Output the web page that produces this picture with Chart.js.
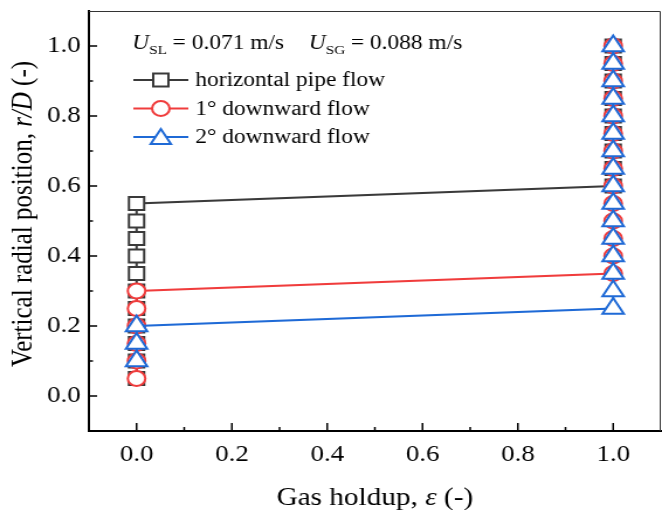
<!DOCTYPE html>
<html>
<head>
<meta charset="utf-8">
<script src="https://cdn.jsdelivr.net/npm/chart.js@4.4.1/dist/chart.umd.min.js"></script>
<style>
  html, body { margin: 0; padding: 0; background: #fff; }
</style>
</head>
<body>
<!-- the figure is drawn narrow and shown stretched, like the source image -->
<canvas id="chart" width="566" height="510" style="display:block;width:662px;height:510px"></canvas>
<script>
// radial positions r/D and gas holdup for each case
const HORIZONTAL_Y = [0.05, 0.10, 0.15, 0.20, 0.25, 0.30, 0.35, 0.40, 0.45, 0.50, 0.55,
  0.60, 0.65, 0.70, 0.75, 0.80, 0.85, 0.90, 0.95, 1.00];
const HORIZONTAL_X = [0, 0, 0, 0, 0, 0, 0, 0, 0, 0, 0,
  1, 1, 1, 1, 1, 1, 1, 1, 1];

const DOWN1_Y = [0.05, 0.10, 0.15, 0.20, 0.25, 0.30,
  0.35, 0.40, 0.45, 0.50, 0.55, 0.60, 0.65, 0.70, 0.75, 0.80, 0.85, 0.90, 0.95, 1.00];
const DOWN1_X = [0, 0, 0, 0, 0, 0,
  1, 1, 1, 1, 1, 1, 1, 1, 1, 1, 1, 1, 1, 1];

const DOWN2_Y = [0.10, 0.15, 0.20,
  0.25, 0.30, 0.35, 0.40, 0.45, 0.50, 0.55, 0.60, 0.65, 0.70, 0.75, 0.80, 0.85, 0.90, 0.95, 1.00];
const DOWN2_X = [0, 0, 0,
  1, 1, 1, 1, 1, 1, 1, 1, 1, 1, 1, 1, 1, 1, 1, 1];

const SERIES_NAMES = ['horizontal pipe flow', '1\u00B0 downward flow', '2\u00B0 downward flow'];

const X_TICKS = [0.0, 0.2, 0.4, 0.6, 0.8, 1.0];
const X_MINOR = [0.1, 0.3, 0.5, 0.7, 0.9];
const Y_TICKS = [0.0, 0.2, 0.4, 0.6, 0.8, 1.0];
const Y_MINOR = [0.1, 0.3, 0.5, 0.7, 0.9];

const FONT = "'Liberation Serif', 'Times New Roman', serif";
const COLORS = { black: '#3a3a3a', red: '#f03c3c', blue: '#1f6ad6' };

function toPoints(xs, ys) {
  return xs.map((x, i) => ({ x: x, y: ys[i] }));
}

// draws a run of text pieces with their own fonts, left to right
function drawRuns(ctx, runs, x, y) {
  runs.forEach(r => {
    ctx.font = r.font;
    ctx.fillText(r.text, x, y + (r.dy || 0));
    x += ctx.measureText(r.text).width;
  });
  return x;
}

function runsWidth(ctx, runs) {
  let w = 0;
  runs.forEach(r => { ctx.font = r.font; w += ctx.measureText(r.text).width; });
  return w;
}

function drawMarker(ctx, style, x, y, r, color) {
  ctx.save();
  ctx.strokeStyle = color;
  ctx.fillStyle = '#fff';
  ctx.lineWidth = 2;
  ctx.beginPath();
  if (style === 'rect') {
    const s = r * Math.SQRT1_2;
    ctx.rect(x - s, y - s, 2 * s, 2 * s);
  } else if (style === 'circle') {
    ctx.arc(x, y, r, 0, Math.PI * 2);
  } else {
    ctx.moveTo(x, y - r);
    ctx.lineTo(x + r * Math.sin(Math.PI * 2 / 3), y - r * Math.cos(Math.PI * 2 / 3));
    ctx.lineTo(x + r * Math.sin(Math.PI * 4 / 3), y - r * Math.cos(Math.PI * 4 / 3));
    ctx.closePath();
  }
  ctx.fill();
  ctx.stroke();
  ctx.restore();
}

const decorPlugin = {
  id: 'decor',
  afterDraw(chart) {
    const ctx = chart.ctx;
    const area = chart.chartArea;
    const xs = chart.scales.x;
    const ys = chart.scales.y;

    ctx.save();
    // top and right frame
    ctx.strokeStyle = '#333';
    ctx.lineWidth = 1;
    ctx.beginPath();
    ctx.moveTo(area.left, area.top + 0.5);
    ctx.lineTo(area.right - 0.5, area.top + 0.5);
    ctx.lineTo(area.right - 0.5, area.bottom);
    ctx.stroke();

    // inward ticks
    ctx.strokeStyle = '#000';
    ctx.lineWidth = 1.5;
    ctx.beginPath();
    X_TICKS.forEach(v => {
      const px = xs.getPixelForValue(v);
      ctx.moveTo(px, area.bottom); ctx.lineTo(px, area.bottom - 8);
    });
    X_MINOR.forEach(v => {
      const px = xs.getPixelForValue(v);
      ctx.moveTo(px, area.bottom); ctx.lineTo(px, area.bottom - 4);
    });
    Y_TICKS.forEach(v => {
      const py = ys.getPixelForValue(v);
      ctx.moveTo(area.left, py); ctx.lineTo(area.left + 7, py);
    });
    Y_MINOR.forEach(v => {
      const py = ys.getPixelForValue(v);
      ctx.moveTo(area.left, py); ctx.lineTo(area.left + 3.5, py);
    });
    ctx.stroke();

    ctx.fillStyle = '#000';
    ctx.textBaseline = 'alphabetic';
    ctx.textAlign = 'left';

    // axis titles
    const xTitle = [
      { text: 'Gas holdup, ', font: `25px ${FONT}` },
      { text: '\u03B5', font: `italic 25px ${FONT}` },
      { text: ' (-)', font: `25px ${FONT}` }
    ];
    const cx = (area.left + area.right) / 2;
    drawRuns(ctx, xTitle, cx - runsWidth(ctx, xTitle) / 2, 505);

    const yTitle = [
      { text: 'Vertical radial position, ', font: `25px ${FONT}` },
      { text: 'r/D', font: `italic 25px ${FONT}` },
      { text: ' (-)', font: `25px ${FONT}` }
    ];
    ctx.save();
    ctx.translate(27, 214);
    ctx.rotate(-Math.PI / 2);
    drawRuns(ctx, yTitle, -runsWidth(ctx, yTitle) / 2, 0);
    ctx.restore();

    // velocity note
    drawRuns(ctx, [
      { text: 'U', font: `italic 20px ${FONT}` },
      { text: 'SL', font: `13px ${FONT}`, dy: 5 },
      { text: ' = 0.071 m/s', font: `20px ${FONT}` }
    ], 113, 49);
    drawRuns(ctx, [
      { text: 'U', font: `italic 20px ${FONT}` },
      { text: 'SG', font: `13px ${FONT}`, dy: 5 },
      { text: ' = 0.088 m/s', font: `20px ${FONT}` }
    ], 264, 49);

    // legend
    const legend = [
      { color: COLORS.black, style: 'rect', r: 9.2 },
      { color: COLORS.red, style: 'circle', r: 7.5 },
      { color: COLORS.blue, style: 'triangle', r: 10 }
    ];
    legend.forEach((item, i) => {
      const y = 80 + i * 28.5;
      ctx.strokeStyle = item.color;
      ctx.lineWidth = 2;
      ctx.beginPath();
      ctx.moveTo(114, y); ctx.lineTo(161, y);
      ctx.stroke();
      drawMarker(ctx, item.style, 137.5, item.style === 'triangle' ? y + 2 : y, item.r, item.color);
      ctx.fillStyle = '#000';
      ctx.font = `20px ${FONT}`;
      ctx.textBaseline = 'middle';
      ctx.fillText(SERIES_NAMES[i], 167, y + 1);
    });
    ctx.restore();
  }
};

const baseSet = {
  showLine: true,
  borderWidth: 2,
  pointBorderWidth: 2,
  pointBackgroundColor: '#fff',
  tension: 0
};

function noEdgePadding(s) {
  s.paddingLeft = 0;
  s.paddingRight = 0;
  s.paddingTop = 0;
  s.paddingBottom = 0;
}

new Chart(document.getElementById('chart').getContext('2d'), {
  type: 'scatter',
  data: {
    datasets: [
      Object.assign({}, baseSet, {
        label: SERIES_NAMES[0],
        data: toPoints(HORIZONTAL_X, HORIZONTAL_Y),
        borderColor: COLORS.black,
        pointBorderColor: COLORS.black,
        pointStyle: 'rect',
        pointRadius: 9.2,
        order: 3
      }),
      Object.assign({}, baseSet, {
        label: SERIES_NAMES[1],
        data: toPoints(DOWN1_X, DOWN1_Y),
        borderColor: COLORS.red,
        pointBorderColor: COLORS.red,
        pointStyle: 'circle',
        pointRadius: 7.5,
        order: 2
      }),
      Object.assign({}, baseSet, {
        label: SERIES_NAMES[2],
        data: toPoints(DOWN2_X, DOWN2_Y),
        borderColor: COLORS.blue,
        pointBorderColor: COLORS.blue,
        pointStyle: 'triangle',
        pointRadius: 10.5,
        order: 1
      })
    ]
  },
  options: {
    responsive: false,
    animation: false,
    devicePixelRatio: 1,
    layout: { autoPadding: false, padding: { top: 11, right: 1, left: 0, bottom: 0 } },
    plugins: {
      legend: { display: false },
      tooltip: { enabled: false }
    },
    scales: {
      x: {
        type: 'linear',
        min: -0.1,
        max: 1.1,
        afterFit: s => { s.height = 79; noEdgePadding(s); },
        afterBuildTicks: s => { s.ticks = X_TICKS.map(v => ({ value: v })); },
        grid: { display: false, drawTicks: false },
        border: { display: true, color: '#000', width: 2 },
        ticks: {
          padding: 10,
          color: '#000',
          font: { family: FONT, size: 23 },
          maxRotation: 0,
          callback: v => v.toFixed(1)
        }
      },
      y: {
        type: 'linear',
        min: -0.1,
        max: 1.1,
        afterFit: s => { s.width = 76; noEdgePadding(s); },
        afterBuildTicks: s => { s.ticks = Y_TICKS.map(v => ({ value: v })); },
        grid: { display: false, drawTicks: false },
        border: { display: true, color: '#000', width: 2 },
        ticks: {
          padding: 7,
          color: '#000',
          font: { family: FONT, size: 23 },
          callback: v => v.toFixed(1)
        }
      }
    }
  },
  plugins: [decorPlugin]
});
</script>
</body>
</html>
